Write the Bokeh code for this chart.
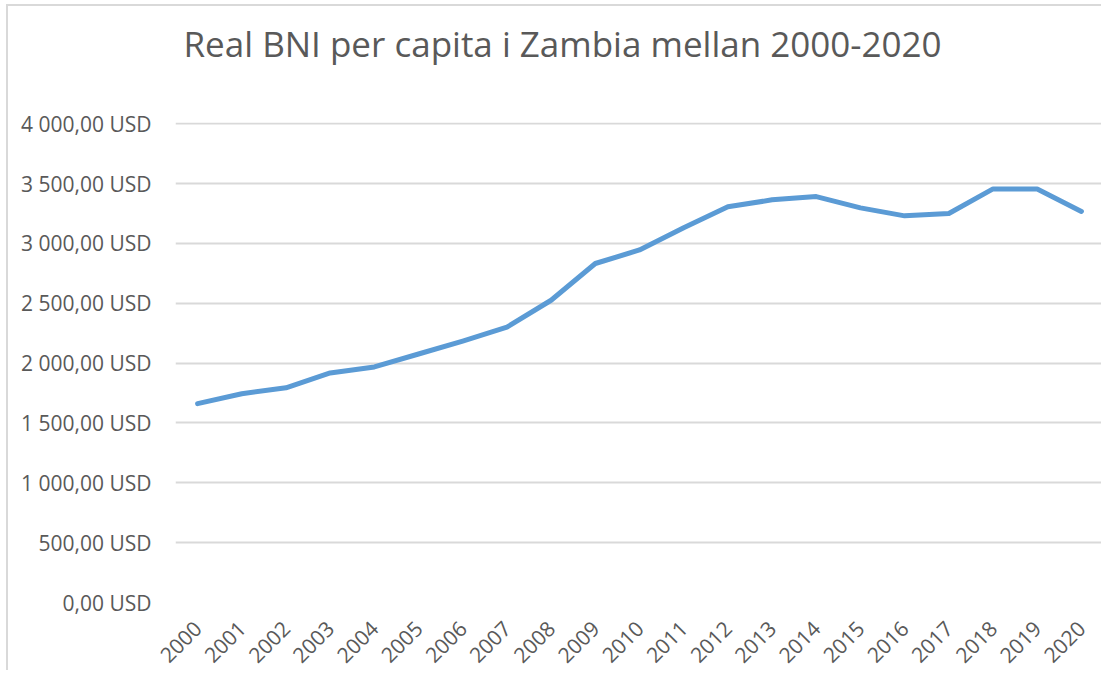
from bokeh.plotting import figure
from bokeh.models import FactorRange, Range1d, FixedTicker, Title
from bokeh.embed import file_html
from bokeh.resources import INLINE
import math

years = [str(y) for y in range(2000, 2021)]
bni = [1661, 1744, 1794, 1918, 1968, 2076, 2184, 2300, 2525, 2832, 2945,
       3131, 3306, 3364, 3391, 3297, 3230, 3250, 3455, 3455, 3267]
y_ticks = [0, 500, 1000, 1500, 2000, 2500, 3000, 3500, 4000]
y_labels = ["0,00 USD", "500,00 USD", "1 000,00 USD", "1 500,00 USD", "2 000,00 USD",
            "2 500,00 USD", "3 000,00 USD", "3 500,00 USD", "4 000,00 USD"]
title_text = "Real BNI per capita i Zambia mellan 2000-2020"

FONT = "Open Sans"
GREY = "#595959"

p = figure(width=1095, height=666, x_range=FactorRange(*years), y_range=Range1d(0, 4010),
           output_backend="svg", toolbar_location=None,
           min_border_left=167, min_border_right=0, min_border_top=116, min_border_bottom=40)
p.title = Title(text=title_text + "\n ", align="left", offset=8, standoff=14, vertical_align="top",
                text_font=FONT, text_font_size="35px", text_color=GREY, text_font_style="normal")
p.outline_line_color = None
p.styles = {"border-left": "2px solid #d9d9d9", "border-top": "2px solid #d9d9d9",
            "margin-left": "6px", "margin-top": "4px"}

p.line(x=years, y=bni, line_color="#5B9BD5", line_width=5, line_join="round", line_cap="round")

p.xgrid.grid_line_color = None
p.ygrid.grid_line_color = "#d9d9d9"
p.ygrid.grid_line_width = 2

p.yaxis.ticker = FixedTicker(ticks=y_ticks)
p.yaxis.major_label_overrides = {t: l for t, l in zip(y_ticks, y_labels)}
for ax in (p.xaxis, p.yaxis):
    ax.axis_line_color = None
    ax.major_tick_line_color = None
    ax.minor_tick_line_color = None
    ax.major_label_text_font = FONT
    ax.major_label_text_color = GREY
p.yaxis.major_label_text_font_size = "21px"
p.yaxis.major_label_standoff = 18
p.xaxis.major_label_text_font_size = "21px"
p.xaxis.major_label_orientation = math.pi / 4
p.xaxis.major_label_standoff = 16

open("out.html", "w").write(file_html(p, INLINE))
